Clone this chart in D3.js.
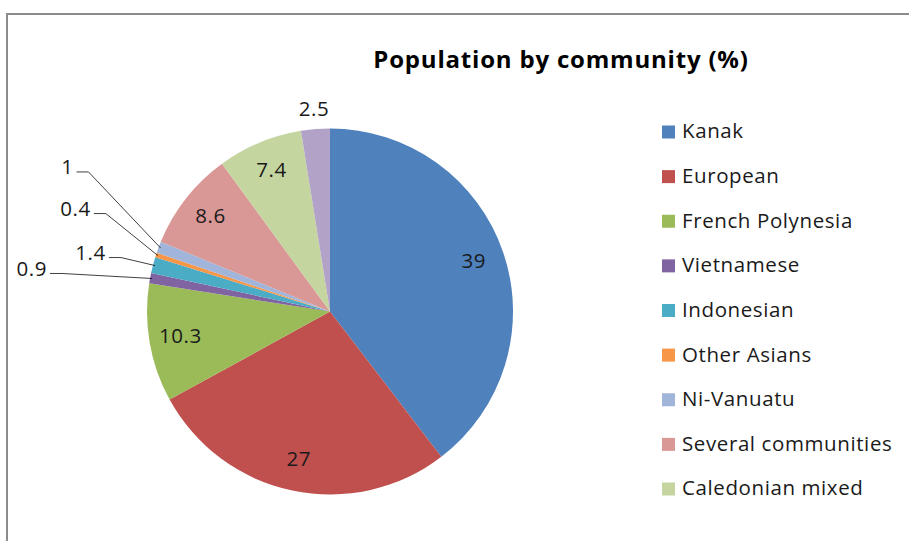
<!DOCTYPE html>
<html>
<head>
<meta charset="utf-8">
<script src="https://cdn.jsdelivr.net/npm/d3@7"></script>
<style>
  html, body { margin: 0; padding: 0; background: #fff; }
  svg { display: block; font-family: 'Open Sans', sans-serif; }
</style>
</head>
<body>
<div id="chart"></div>
<script>
(function() {
  'use strict';

  // Chart data.
  var communities = ['Kanak', 'European', 'French Polynesia', 'Vietnamese', 'Indonesian',
                     'Other Asians', 'Ni-Vanuatu', 'Several communities', 'Caledonian mixed', 'Other'];
  var shares = [39, 27, 10.3, 0.9, 1.4, 0.4, 1, 8.6, 7.4, 2.5];
  var colours = ['#4f81bd', '#c0504d', '#9bbb59', '#8064a2', '#4bacc6',
                 '#f79646', '#a1b4d9', '#d99795', '#c4d5a0', '#b3a2c7'];
  // Only the first nine entries fit in the legend box.
  var legendCount = 9;

  var width = 909, height = 541;
  var cx = 330, cy = 311.5, radius = 183;

  var svg = d3.select('#chart').append('svg')
      .attr('width', width)
      .attr('height', height);

  // Chart area frame (cut off at right and bottom).
  svg.append('path')
      .attr('d', 'M7,' + height + 'V14H' + width)
      .attr('fill', 'none')
      .attr('stroke', '#8c8c8c')
      .attr('stroke-width', 2);

  svg.append('text')
      .attr('x', 561)
      .attr('y', 68)
      .attr('text-anchor', 'middle')
      .attr('font-size', 24)
      .attr('font-weight', 'bold')
      .attr('letter-spacing', 0.8)
      .attr('fill', '#000')
      .text('Population by community (%)');

  var pie = d3.pie().sort(null).value(function(d) { return d; });
  var arcs = pie(shares);
  var arc = d3.arc().innerRadius(0).outerRadius(radius);
  var labelArc = d3.arc().innerRadius(radius * 0.83).outerRadius(radius * 0.83);
  var outerArc = d3.arc().innerRadius(radius * 1.1).outerRadius(radius * 1.1);
  var edgeArc = d3.arc().innerRadius(radius - 2).outerRadius(radius - 2);

  var g = svg.append('g').attr('transform', 'translate(' + cx + ',' + cy + ')');

  g.selectAll('path.slice')
    .data(arcs)
    .enter().append('path')
      .attr('class', 'slice')
      .attr('d', arc)
      .attr('fill', function(d, i) { return colours[i]; });

  // Small slices get their labels pulled out to the left with leader lines,
  // offsets (relative to the slice edge) mimic the chart's moved labels.
  var leaderShift = {3: [-90, -5], 4: [-34, -8], 5: [-52, -42], 6: [-72, -76]};
  var fontSize = 20.5, spacing = 0.6, textColour = '#1a1a1a';

  arcs.forEach(function(d, i) {
    var txt = String(shares[i]);
    if (leaderShift[i]) {
      var edge = edgeArc.centroid(d);
      var ex = edge[0] + leaderShift[i][0], ey = edge[1] + leaderShift[i][1];
      g.append('polyline')
          .attr('points', [[ex - 12, ey], [ex, ey], edge].join(' '))
          .attr('fill', 'none')
          .attr('stroke', '#000')
          .attr('stroke-width', 0.75);
      g.append('text')
          .attr('x', ex - 15)
          .attr('y', ey - 3)
          .attr('text-anchor', 'end')
          .attr('dominant-baseline', 'middle')
          .attr('font-size', fontSize)
          .attr('letter-spacing', spacing)
          .attr('fill', textColour)
          .text(txt);
    } else {
      var p = (d.endAngle - d.startAngle) < 0.2 ? outerArc.centroid(d) : labelArc.centroid(d);
      g.append('text')
          .attr('x', p[0])
          .attr('y', p[1])
          .attr('text-anchor', 'middle')
          .attr('dominant-baseline', 'middle')
          .attr('font-size', fontSize)
          .attr('letter-spacing', spacing)
          .attr('fill', textColour)
          .text(txt);
    }
  });

  // Legend.
  var legendY = d3.scaleLinear().domain([0, 8]).range([132, 489]);
  var legend = svg.append('g').selectAll('g')
      .data(communities.slice(0, legendCount))
      .enter().append('g')
      .attr('transform', function(d, i) { return 'translate(662,' + legendY(i) + ')'; });

  legend.append('rect')
      .attr('x', 0)
      .attr('y', -6.5)
      .attr('width', 13)
      .attr('height', 13)
      .attr('fill', function(d, i) { return colours[i]; });

  legend.append('text')
      .attr('x', 20)
      .attr('y', 1)
      .attr('dominant-baseline', 'middle')
      .attr('font-size', fontSize)
      .attr('letter-spacing', spacing)
      .attr('fill', textColour)
      .text(function(d) { return d; });
}());
</script>
</body>
</html>
